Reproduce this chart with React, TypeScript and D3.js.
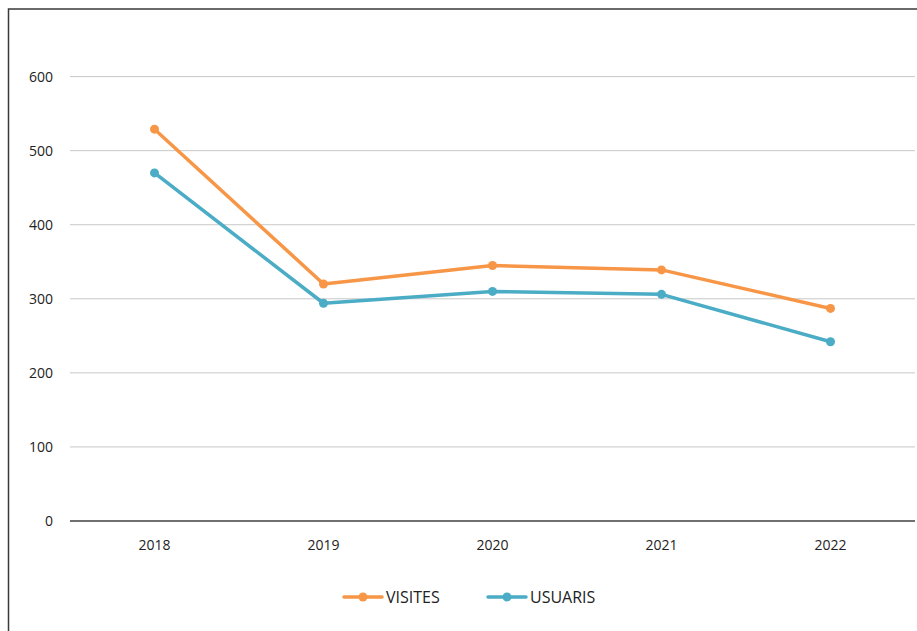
import React from "react";
import * as d3 from "d3";

const years = ["2018", "2019", "2020", "2021", "2022"];
const visites = [529, 320, 345, 339, 287];
const usuaris = [470, 294, 310, 306, 242];
const yTicks = [0, 100, 200, 300, 400, 500, 600];

const W = 917;
const H = 631;
const M = { left: 70, right: 915, top: 76.6, bottom: 521 };
const ORANGE = "#F79646";
const BLUE = "#4BACC6";
const FONT = "'Open Sans', 'Liberation Sans', sans-serif";

export default function App() {
  const x = d3.scaleBand<string>().domain(years).range([M.left, M.right]);
  const y = d3.scaleLinear().domain([0, 600]).range([M.bottom, M.top]);
  const cx = (d: string) => (x(d) as number) + x.bandwidth() / 2;
  const line = d3
    .line<number>()
    .x((_, i) => cx(years[i]))
    .y((d) => y(d));
  const series = [
    { name: "VISITES", values: visites, color: ORANGE },
    { name: "USUARIS", values: usuaris, color: BLUE },
  ];
  const legend = [
    { name: "VISITES", color: ORANGE, x0: 344 },
    { name: "USUARIS", color: BLUE, x0: 488 },
  ];
  return (
    <svg
      width={W}
      height={H}
      style={{ position: "absolute", left: 0, top: 0, background: "#fff" }}
    >
      <rect x={8.5} y={9} width={W + 20} height={H + 20} fill="#fff" stroke="#3a3a3a" strokeWidth={1.5} />
      {yTicks.map((t) =>
        t === 0 ? null : (
          <line key={t} x1={M.left} x2={M.right} y1={y(t)} y2={y(t)} stroke="#c8c8c8" strokeWidth={1} />
        )
      )}
      <line x1={M.left} x2={M.right} y1={y(0)} y2={y(0)} stroke="#404040" strokeWidth={1.3} />
      {yTicks.map((t) => (
        <text
          key={t}
          x={53}
          y={y(t)}
          dy="0.35em"
          textAnchor="end"
          fontFamily={FONT}
          fontSize={14}
          fill="#222"
        >
          {t}
        </text>
      ))}
      {years.map((yr) => (
        <text
          key={yr}
          x={cx(yr)}
          y={545}
          dy="0.35em"
          textAnchor="middle"
          fontFamily={FONT}
          fontSize={14}
          fill="#222"
        >
          {yr}
        </text>
      ))}
      {series.map((s) => (
        <g key={s.name}>
          <path d={line(s.values) || ""} fill="none" stroke={s.color} strokeWidth={3.5} strokeLinejoin="round" />
          {s.values.map((v, i) => (
            <circle key={i} cx={cx(years[i])} cy={y(v)} r={4.5} fill={s.color} />
          ))}
        </g>
      ))}
      {legend.map((l) => (
        <g key={l.name}>
          <line x1={l.x0} x2={l.x0 + 38} y1={597} y2={597} stroke={l.color} strokeWidth={3.5} strokeLinecap="round" />
          <circle cx={l.x0 + 19} cy={597} r={4.5} fill={l.color} />
          <text x={l.x0 + 42} y={597} dy="0.35em" fontFamily={FONT} fontSize={16} fill="#222">
            {l.name}
          </text>
        </g>
      ))}
    </svg>
  );
}
